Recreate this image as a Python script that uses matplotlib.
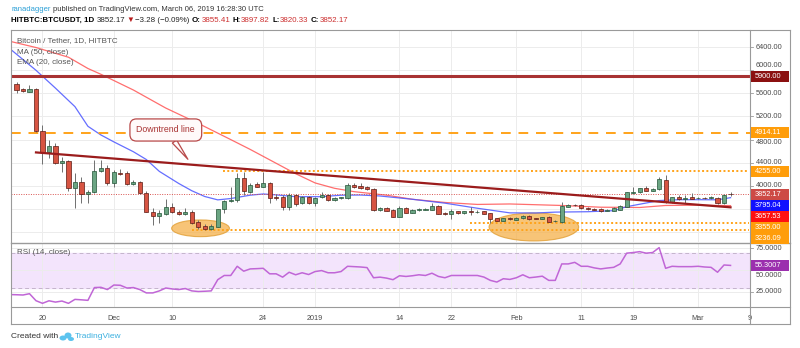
import numpy as np
import pandas as pd
import matplotlib
matplotlib.use('Agg')
import matplotlib.pyplot as plt
import matplotlib.dates as mdates
from matplotlib.patches import Ellipse, Rectangle
from matplotlib.lines import Line2D

plt.rcParams['font.family'] = ['Liberation Sans', 'DejaVu Sans']

W, H = 800, 348

###############################################################################
# datos

dates = pd.date_range('2018-11-16', '2019-03-06', freq='D')

opens = [5756, 5670, 5628, 5670, 4948, 4590, 4684, 4390, 4430, 3968,
         4071, 3853, 3888, 4262, 4314, 4044, 4217, 4217, 4026, 4061,
         3871, 3552, 3483, 3507, 3639, 3552, 3507, 3552, 3370, 3305,
         3258, 3293, 3594, 3738, 3755, 4130, 3898, 4026, 3985, 4044,
         3810, 3810, 3628, 3841, 3708, 3801, 3698, 3801, 3841, 3755,
         3784, 3784, 4014, 3995, 3975, 3940, 3582, 3611, 3582, 3466,
         3611, 3535, 3580, 3590, 3582, 3651, 3535, 3507, 3559, 3525,
         3559, 3545, 3559, 3525, 3438, 3397, 3448, 3410, 3438, 3478,
         3440, 3430, 3455, 3385, 3379, 3640, 3668, 3668, 3622, 3600,
         3599, 3570, 3570, 3590, 3640, 3871, 3888, 3957, 3916, 3940,
         4101, 3725, 3801, 3780, 3801, 3785, 3795, 3790, 3784, 3698,
         3855.41]
highs = [5791, 5687, 5744, 5687, 5052, 4788, 4736, 4504, 4440, 4217,
         4158, 3928, 4447, 4447, 4360, 4274, 4286, 4257, 4101, 4084,
         3910, 3611, 3582, 3772, 3708, 3582, 3611, 3582, 3409, 3340,
         3340, 3600, 3755, 3985, 4217, 4244, 4044, 4071, 4244, 4071,
         3859, 3841, 3881, 3860, 3820, 3820, 3812, 3898, 3860, 3800,
         3815, 4044, 4054, 4054, 3990, 3957, 3625, 3640, 3600, 3651,
         3625, 3595, 3610, 3615, 3708, 3665, 3545, 3594, 3570, 3570,
         3628, 3575, 3570, 3535, 3450, 3450, 3460, 3460, 3490, 3490,
         3450, 3465, 3470, 3405, 3725, 3680, 3685, 3680, 3640, 3615,
         3612, 3595, 3625, 3665, 3898, 3985, 3970, 3997, 3960, 4158,
         4187, 3815, 3841, 3841, 3881, 3815, 3815, 3820, 3800, 3855,
         3897.82]
lows = [5601, 5618, 5618, 4926, 4372, 4476, 4380, 4244, 3910, 3611,
        3698, 3698, 3880, 4244, 4014, 3985, 4187, 4014, 4014, 3853,
        3542, 3322, 3352, 3495, 3530, 3495, 3495, 3334, 3253, 3236,
        3241, 3283, 3525, 3725, 3725, 3841, 3871, 3975, 3975, 3698,
        3755, 3582, 3582, 3651, 3690, 3690, 3651, 3795, 3745, 3740,
        3770, 3767, 3957, 3940, 3930, 3570, 3560, 3560, 3455, 3455,
        3525, 3525, 3570, 3575, 3575, 3505, 3495, 3421, 3515, 3515,
        3495, 3530, 3505, 3352, 3385, 3385, 3410, 3400, 3430, 3415,
        3420, 3420, 3370, 3370, 3362, 3630, 3645, 3600, 3585, 3575,
        3555, 3560, 3560, 3580, 3628, 3860, 3880, 3905, 3905, 3930,
        3708, 3710, 3755, 3698, 3765, 3770, 3770, 3775, 3690, 3690,
        3820.33]
closes = [5658, 5640, 5675, 4948, 4590, 4684, 4390, 4430, 3968, 4071,
          3853, 3888, 4262, 4314, 4044, 4234, 4200, 4026, 4061, 3871,
          3552, 3483, 3525, 3639, 3542, 3507, 3552, 3352, 3293, 3258,
          3305, 3594, 3738, 3755, 4130, 3916, 4014, 3985, 4044, 3795,
          3790, 3628, 3841, 3686, 3801, 3708, 3784, 3841, 3755, 3784,
          3801, 4014, 3975, 3962, 3940, 3582, 3611, 3570, 3466, 3611,
          3535, 3582, 3594, 3602, 3651, 3513, 3507, 3559, 3525, 3559,
          3545, 3555, 3513, 3421, 3397, 3438, 3421, 3448, 3478, 3426,
          3430, 3455, 3379, 3397, 3651, 3668, 3660, 3611, 3594, 3590,
          3564, 3582, 3611, 3651, 3888, 3898, 3957, 3916, 3945, 4113,
          3725, 3801, 3772, 3790, 3780, 3795, 3785, 3800, 3698, 3841,
          3852.17]

# MA (50) - linea roja
ma50_dates = ['2018-11-15', '2018-11-19', '2018-11-24', '2018-11-27',
              '2018-11-29', '2018-12-04', '2018-12-09', '2018-12-14',
              '2018-12-19', '2018-12-22', '2018-12-25', '2018-12-29',
              '2019-01-01', '2019-01-04', '2019-01-07', '2019-01-12',
              '2019-01-16', '2019-01-21', '2019-01-26', '2019-01-31',
              '2019-02-08', '2019-02-14', '2019-02-20', '2019-02-24',
              '2019-03-01', '2019-03-06']
ma50_vals = [6500, 6393, 6225, 6030, 5930, 5658, 5345, 5080,
             4800, 4630, 4450, 4210, 4050, 3957, 3899, 3838,
             3767, 3712, 3678, 3686, 3660, 3630, 3625, 3660,
             3665, 3657.53]

# EMA (20) - linea azul
ema20_dates = ['2018-11-15', '2018-11-19', '2018-11-22', '2018-11-25',
               '2018-11-27', '2018-11-29', '2018-12-01', '2018-12-04',
               '2018-12-06', '2018-12-08', '2018-12-11', '2018-12-13',
               '2018-12-15', '2018-12-17', '2018-12-19', '2018-12-22',
               '2018-12-24', '2018-12-26', '2018-12-29', '2019-01-02',
               '2019-01-05', '2019-01-08', '2019-01-11', '2019-01-16',
               '2019-01-21', '2019-01-26', '2019-01-31', '2019-02-04',
               '2019-02-07', '2019-02-12', '2019-02-16', '2019-02-18',
               '2019-02-23', '2019-02-26', '2019-03-01', '2019-03-04',
               '2019-03-06']
ema20_vals = [6370, 5999, 5690, 5370, 5030, 4880, 4760, 4590,
              4455, 4250, 4040, 3915, 3815, 3757, 3780, 3838,
              3859, 3843, 3812, 3812, 3838, 3841, 3824, 3767,
              3700, 3612, 3532, 3530, 3545, 3552, 3570, 3639,
              3745, 3760, 3760, 3758, 3795.04]

# RSI (14)
rsi_dates = pd.date_range('2018-11-15', '2019-03-06', freq='D')
rsi_vals = [22.0, 21.8, 21.5, 23.0, 15.0, 12.0, 14.9, 13.4, 14.6, 12.0,
            16.5, 16.0, 15.4, 30.0, 30.3, 27.7, 32.9, 32.6, 29.5, 30.0,
            27.7, 23.9, 23.9, 26.2, 29.5, 28.4, 27.7, 28.9, 26.2, 25.5,
            25.8, 26.2, 39.0, 43.8, 43.8, 54.3, 48.7, 51.3, 51.6, 52.0,
            45.7, 45.7, 41.9, 47.5, 44.6, 46.9, 44.9, 48.3, 49.4, 46.9,
            46.9, 48.3, 54.3, 53.9, 53.5, 52.8, 41.2, 41.9, 40.8, 39.0,
            43.5, 42.7, 43.5, 44.6, 43.8, 46.4, 42.7, 41.2, 43.8, 43.8,
            43.8, 43.8, 43.8, 42.0, 38.2, 36.3, 40.1, 39.3, 41.2, 44.6,
            41.2, 42.0, 43.0, 38.2, 38.2, 57.0, 57.0, 58.8, 54.3, 54.3,
            52.5, 51.3, 52.3, 53.1, 57.0, 69.3, 70.0, 71.0, 69.3, 70.0,
            75.6, 52.0, 54.3, 53.9, 53.9, 53.9, 54.3, 53.5, 53.1, 47.5,
            55.8, 55.3007]

# linea de tendencia bajista
trend_dates = ['2018-11-19', '2019-03-06']
trend_vals = [4578, 3628]

# niveles horizontales
level_5900 = 5900.00
level_4914 = 4914.11
level_4255 = 4255.00
level_3355 = 3355.00
level_3236 = 3236.09
last_price = 3852.17

price_ticks = [3200, 3600, 4000, 4400, 4800, 5200, 5600, 6000, 6400]
price_labels = [4000, 4400, 4800, 5200, 5600, 6000, 6400]
rsi_ticks = [25, 50, 75]
tick_dates = ['2018-11-20', '2018-12-01', '2018-12-10', '2018-12-24',
              '2019-01-01', '2019-01-14', '2019-01-22', '2019-02-01',
              '2019-02-11', '2019-02-19', '2019-03-01', '2019-03-09']
tick_labels = ['20', 'Dec', '10', '24', '2019', '14', '22', 'Feb',
               '11', '19', 'Mar', '9']

###############################################################################

def fx(x):
  return x / W

def fy(y):
  return 1 - y / H

def dn(s):
  return mdates.date2num(pd.to_datetime(s))

fig = plt.figure(figsize=(W / 100, H / 100), dpi=100)
fig.patch.set_facecolor('white')
renderer = fig.canvas.get_renderer()

ax = fig.add_axes([fx(11), fy(242), fx(750) - fx(11), fy(30) - fy(242)])
ar = fig.add_axes([fx(11), fy(307), fx(750) - fx(11), fy(243) - fy(307)])

x0 = dn('2018-11-16')
xlim = (x0 - 0.85, x0 + 112.85)
for a in (ax, ar):
  a.set_xlim(*xlim)
  for s in a.spines.values():
    s.set_visible(False)
  a.set_xticks(dn(tick_dates))
  a.grid(True, color='#ececec', lw=0.7)
  a.set_axisbelow(True)
ax.set_ylim(3028, 6696)
ar.set_ylim(7.8, 80.9)

ax.set_yticks(price_ticks)
ax.tick_params(axis='both', length=0, labelbottom=False, labelleft=False)
ar.set_yticks(rsi_ticks)
ar.tick_params(axis='y', length=0, labelleft=False)
ar.tick_params(axis='x', length=0, pad=6, labelsize=5.2, labelcolor='#4a4a4a')
ar.set_xticklabels(tick_labels)

# --- panel principal
xs = dn(dates)
o = np.array(opens); hi = np.array(highs); lo = np.array(lows); c = np.array(closes)
up = c >= o
ax.vlines(xs, lo, hi, color='#6f6f6f', lw=0.7, zorder=3)
body_h = np.maximum(np.abs(c - o), 8)
ax.bar(xs[up], body_h[up], bottom=np.minimum(o, c)[up], width=0.64,
       color='#6ba583', edgecolor='#225437', lw=0.5, zorder=4)
ax.bar(xs[~up], body_h[~up], bottom=np.minimum(o, c)[~up], width=0.64,
       color='#d75442', edgecolor='#5b1a13', lw=0.5, zorder=4)

ax.plot(dn(ma50_dates), ma50_vals, color='#ff5555', lw=0.9, alpha=0.85, zorder=2)
ax.plot(dn(ema20_dates), ema20_vals, color='#4a55ff', lw=0.9, alpha=0.85, zorder=2)
ax.plot(dn(trend_dates), trend_vals, color='#9b1c1c', lw=1.6, zorder=5)

ax.axhline(level_5900, color='#a83232', lw=2.2, zorder=2)
ax.axhline(level_4914, color='#ffa31a', lw=1.4, ls=(0, (5, 4)), zorder=2)
ax.hlines(level_4255, dn('2018-12-17') + 0.8, xlim[1], color='#ffa31a', lw=1.4,
          ls=(0, (1, 1.2)), zorder=2)
ax.hlines(level_3355, dn('2019-01-24') + 0.8, xlim[1], color='#ffa31a', lw=1.4,
          ls=(0, (1, 1.2)), zorder=2)
ax.hlines(level_3236, dn('2018-12-13'), xlim[1], color='#ffa31a', lw=1.4,
          ls=(0, (1, 1.2)), zorder=2)
ax.axhline(last_price, color='#d9534f', lw=0.7, ls=(0, (1, 1.5)), zorder=2)

# elipses
ax.add_patch(Ellipse((dn('2018-12-14') + 0.35, 3265), 8.9, 289, fc='#f5b04a',
                     ec='#e09a2a', lw=0.8, alpha=0.75, zorder=1))
ax.add_patch(Ellipse((dn('2019-02-03') + 0.7, 3288), 13.8, 484, fc='#f5b04a',
                     ec='#e09a2a', lw=0.8, alpha=0.75, zorder=1))

# globo de texto
ax.annotate('Downtrend line', xy=(dn('2018-12-12') + 0.4, 4459),
            xytext=(dn('2018-12-09'), 4966), ha='center', va='center',
            fontsize=6.3, color='#a83232', zorder=6,
            bbox=dict(boxstyle='round,pad=0.75', fc='#fffafa', ec='#b84a4a', lw=0.9),
            arrowprops=dict(arrowstyle='wedge,tail_width=0.6', fc='#fffafa',
                            ec='#b84a4a', lw=0.9, shrinkA=0, shrinkB=0))

# --- panel RSI
ar.axhspan(30, 70, color='#f3e4fc', zorder=0)
ar.axhline(70, color='#c4b4cc', lw=0.7, ls=(0, (4, 3)))
ar.axhline(30, color='#c4b4cc', lw=0.7, ls=(0, (4, 3)))
ar.plot(dn(rsi_dates), rsi_vals, color='#c066d6', lw=1.1, zorder=3)

# --- textos
gray = '#555555'
fig.text(fx(17), fy(41), 'Bitcoin / Tether, 1D, HITBTC', fontsize=5.8, color=gray, va='center')
fig.text(fx(17), fy(52), 'MA (50, close)', fontsize=5.8, color=gray, va='center')
fig.text(fx(17), fy(62), 'EMA (20, close)', fontsize=5.8, color=gray, va='center')
fig.text(fx(17), fy(253), 'RSI (14, close)', fontsize=5.8, color=gray, va='center')

def chain(parts, y, x_start, x_end):
  # coloca los textos uno tras otro y ajusta el tamaño al ancho pedido
  size = 10.0
  for pasada in range(2):
    xcur = x_start
    arts = []
    for t, col, wt, gap in parts:
      xcur += gap * size * 100 / 72
      tx = fig.text(fx(xcur), fy(y), t, fontsize=size, color=col, fontweight=wt, va='center')
      xcur = tx.get_window_extent(renderer).x1
      arts.append(tx)
    if pasada == 0:
      size = size * (x_end - x_start) / (xcur - x_start)
      for tx in arts:
        tx.remove()

blue_user = '#2a9fd6'
chain([('ranadagger', blue_user, 'normal', 0),
       ('published on TradingView.com, March 06, 2019 16:28:30 UTC', '#333333', 'normal', 0.28)],
      9.5, 11, 263)
red = '#cc2f2f'
chain([('HITBTC:BTCUSDT, 1D', 'black', 'bold', 0),
       ('3852.17', '#222222', 'normal', 0.35),
       ('\u25bc', '#b71c1c', 'normal', 0.12),
       ('\u22123.28 (\u22120.09%)', '#222222', 'normal', 0.12),
       ('O:', 'black', 'bold', 0.3), ('3855.41', red, 'normal', 0.05),
       ('H:', 'black', 'bold', 0.3), ('3897.82', red, 'normal', 0.05),
       ('L:', 'black', 'bold', 0.3), ('3820.33', red, 'normal', 0.05),
       ('C:', 'black', 'bold', 0.3), ('3852.17', red, 'normal', 0.05)],
      20.5, 11, 348)

fig.text(fx(11), fy(337), 'Created with', fontsize=6, color='#333333', va='center')
fig.text(fx(75), fy(337), 'TradingView', fontsize=6, color='#3bb0e0', va='center')
for cx, cy, ew, eh in [(63, 338, 7, 5), (68, 335.5, 7, 6), (71, 339, 6, 4)]:
  fig.add_artist(Ellipse((fx(cx), fy(cy)), ew / W, eh / H, transform=fig.transFigure,
                         fc='#5cc3ee', ec='none'))

# --- marco
def fline(x1, y1, x2, y2, col='#9a9a9a', lw=0.8):
  fig.add_artist(Line2D([fx(x1), fx(x2)], [fy(y1), fy(y2)], color=col, lw=lw))

fline(11, 30, 790, 30)
fline(11, 324, 790, 324)
fline(11, 30, 11, 324)
fline(790, 30, 790, 324)
fline(750, 30, 750, 324)
fline(11, 242.5, 790, 242.5, lw=1.0)
fline(11, 307, 790, 307)

# --- escala de precios
def ypix(a, v):
  return a.transData.transform((xlim[0], v))[1]

def axis_label(yp, txt, shift=0):
  fig.text(fx(756), yp / H + shift / H, txt, fontsize=5.3, color='#4a4a4a', va='center')
  fig.add_artist(Line2D([fx(750), fx(753)], [yp / H, yp / H], color='#9a9a9a', lw=0.6))

# algunas etiquetas quedan medio tapadas por las de color: se corren un poco
shifts = {6000: 5, 4800: -2.5}
for v in price_labels:
  axis_label(ypix(ax, v), f'{v:.2f}', shift=shifts.get(v, 0))
for v in rsi_ticks:
  axis_label(ypix(ar, v), f'{v:.4f}', shift=-5 if v == 50 else 0)

def tag(a, v, fc, fmt='{:.2f}', y_override=None):
  yp = ypix(a, v if y_override is None else y_override) / H
  fig.add_artist(Rectangle((fx(751), yp - 5.5 / H), 38 / W, 11 / H, transform=fig.transFigure,
                           fc=fc, ec='none', zorder=5))
  fig.text(fx(755), yp, fmt.format(v), fontsize=5.3, color='white', va='center', zorder=6)

tag(ax, level_5900, '#8b1010')
tag(ax, level_4914, '#ff9d0a')
tag(ax, level_4255, '#ff9d0a')
# etiquetas que se pisan: se corren hacia abajo
gap = 11 / (ypix(ax, 4000) - ypix(ax, 3000)) * 1000
stack = [(last_price, '#cd4a45'), (ema20_vals[-1], '#1010ff'), (ma50_vals[-1], '#ff1010'),
         (level_3355, '#ff9d0a'), (level_3236, '#ff9d0a')]
prev = None
for v, col in stack:
  yv = v if prev is None else min(v, prev - gap)
  tag(ax, v, col, y_override=yv)
  prev = yv
tag(ar, rsi_vals[-1], '#9b2fae', fmt='{:.4f}')

plt.savefig('out.png', dpi=100)
